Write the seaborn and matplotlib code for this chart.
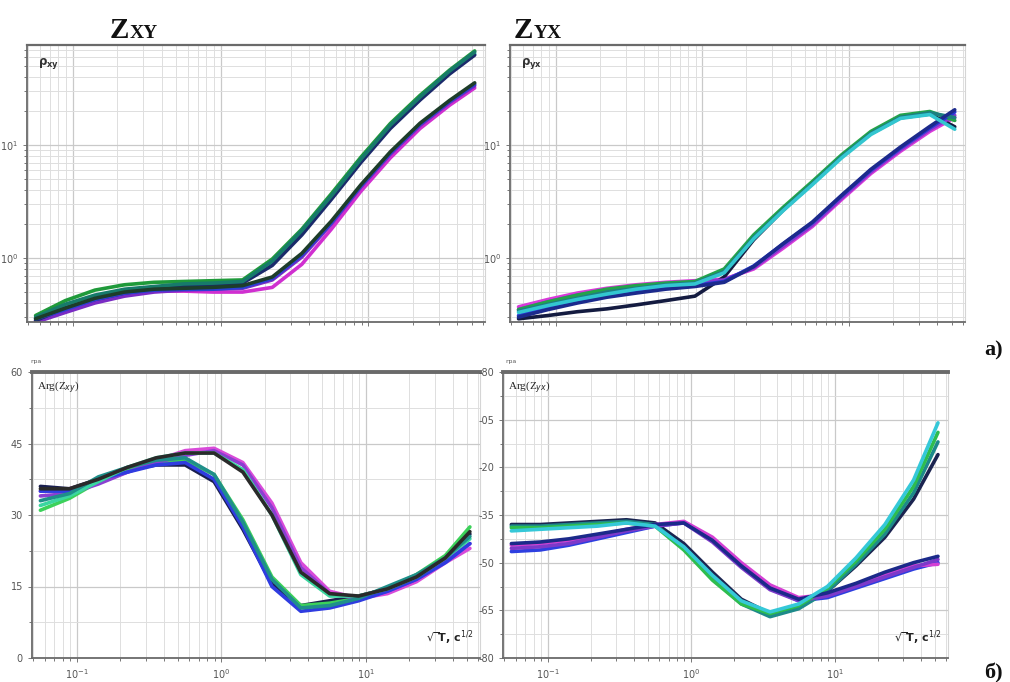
import numpy as np
import pandas as pd
import matplotlib
matplotlib.use("Agg")
import matplotlib.pyplot as plt
import seaborn as sns
from matplotlib.ticker import LogLocator, NullFormatter, FixedLocator, FixedFormatter, MultipleLocator

# ---------------- data ----------------
PERIOD = [0.056, 0.089, 0.141, 0.224, 0.355, 0.562, 0.891, 1.41, 2.24, 3.55,
          5.62, 8.91, 14.1, 22.4, 35.5, 52.5]

# rho_xy (top-left)
RXY_A1 = [0.31, 0.42, 0.52, 0.58, 0.61, 0.62, 0.63, 0.64, 0.98, 1.80, 3.70, 7.8, 15.5, 27.5, 46.0, 68.0]
RXY_A2 = [0.29, 0.38, 0.45, 0.51, 0.55, 0.57, 0.58, 0.61, 0.90, 1.68, 3.40, 7.2, 14.4, 25.6, 43.5, 64.0]
RXY_A3 = [0.28, 0.36, 0.43, 0.49, 0.53, 0.56, 0.58, 0.60, 0.86, 1.60, 3.30, 7.0, 14.0, 25.0, 42.5, 62.5]
RXY_A4 = [0.30, 0.39, 0.47, 0.53, 0.56, 0.59, 0.60, 0.62, 0.94, 1.75, 3.55, 7.5, 15.0, 26.6, 45.2, 66.5]
RXY_B1 = [0.28, 0.34, 0.42, 0.48, 0.51, 0.51, 0.50, 0.50, 0.55, 0.88, 1.80, 3.9, 7.7, 14.0, 22.5, 32.0]
RXY_B2 = [0.27, 0.33, 0.40, 0.46, 0.50, 0.52, 0.53, 0.54, 0.64, 1.02, 2.00, 4.25, 8.3, 14.9, 23.8, 33.5]
RXY_B3 = [0.29, 0.35, 0.43, 0.49, 0.52, 0.53, 0.53, 0.55, 0.66, 1.06, 2.05, 4.35, 8.5, 15.3, 24.3, 34.5]
RXY_B4 = [0.29, 0.36, 0.44, 0.50, 0.53, 0.54, 0.55, 0.57, 0.68, 1.10, 2.12, 4.45, 8.7, 15.6, 24.8, 35.5]

# rho_yx (top-right)
RYX_A1 = [0.29, 0.31, 0.335, 0.355, 0.385, 0.42, 0.46, 0.68, 1.45, 2.65, 4.55, 7.9, 12.6, 17.4, 18.8, 14.5]
RYX_A2 = [0.35, 0.41, 0.47, 0.53, 0.57, 0.60, 0.62, 0.80, 1.60, 2.80, 4.75, 8.2, 13.2, 18.3, 19.8, 16.5]
RYX_A3 = [0.34, 0.39, 0.44, 0.50, 0.54, 0.58, 0.60, 0.76, 1.52, 2.68, 4.55, 7.9, 12.7, 17.6, 19.3, 17.5]
RYX_A4 = [0.33, 0.38, 0.43, 0.48, 0.53, 0.57, 0.59, 0.74, 1.48, 2.62, 4.45, 7.7, 12.4, 17.2, 18.6, 13.8]
RYX_B1 = [0.37, 0.43, 0.49, 0.54, 0.58, 0.61, 0.63, 0.65, 0.80, 1.22, 1.90, 3.30, 5.6, 8.8, 13.2, 17.5]
RYX_B2 = [0.35, 0.41, 0.47, 0.52, 0.56, 0.59, 0.61, 0.64, 0.82, 1.27, 1.96, 3.40, 5.8, 9.1, 13.7, 18.3]
RYX_B3 = [0.31, 0.36, 0.41, 0.46, 0.50, 0.54, 0.57, 0.62, 0.85, 1.33, 2.05, 3.55, 6.0, 9.4, 14.2, 19.6]
RYX_B4 = [0.30, 0.35, 0.40, 0.45, 0.49, 0.53, 0.56, 0.61, 0.84, 1.34, 2.08, 3.60, 6.1, 9.6, 14.6, 20.5]

# Arg(Zxy) (bottom-left)
PXY_A1 = [36, 35.5, 37.5, 39.5, 40.5, 40.5, 37, 27, 15.5, 11, 12, 13, 14.5, 17, 20.5, 26]
PXY_A2 = [31, 33.5, 37, 39.5, 41, 41.5, 38.5, 29, 17, 11, 11.5, 12.5, 14.5, 17.5, 21.5, 27.5]
PXY_A3 = [35, 35, 37.5, 39, 40.5, 41, 37.5, 27.5, 15, 9.8, 10.5, 12, 14, 16.5, 20, 24]
PXY_A4 = [33, 34.5, 38, 40, 41.5, 42, 38.5, 28.5, 16.5, 10.5, 11, 12.5, 15, 17.5, 21, 25.5]
PXY_B1 = [35, 35.5, 37, 39, 41.5, 43.5, 44, 41, 32.5, 20, 14, 12.5, 13.5, 16, 20, 23]
PXY_B2 = [34, 34.5, 36.5, 39, 41, 42.5, 43.5, 40.5, 31.5, 19, 13.5, 12.5, 14, 16.5, 20.5, 24]
PXY_B3 = [32, 34, 37, 40, 42, 43, 43, 39.5, 30, 17.5, 13, 13, 14.5, 17, 21, 25]
PXY_B4 = [35.5, 35.5, 37.5, 40, 42, 43, 43, 39, 30, 18, 13.5, 13, 14.5, 17, 21, 26.5]

# Arg(Zyx) (bottom-right)
PYX_A1 = [-38, -38, -37.5, -37, -36.5, -37.5, -44, -53, -61.5, -66, -64, -59, -51, -42, -30, -16]
PYX_A2 = [-38.5, -38.5, -38, -37.5, -37, -38, -45.5, -55, -63, -67, -64.5, -59, -50.5, -41, -28, -12]
PYX_A3 = [-39, -39, -38.5, -38, -37.5, -38.5, -46, -55.5, -63, -66, -63.5, -58, -49.5, -39.5, -26, -9]
PYX_A4 = [-40, -39.5, -39, -38.5, -37.5, -38.5, -45, -54, -62, -65.5, -63, -57.5, -48.5, -38, -24, -6]
PYX_B1 = [-46.5, -46, -44.5, -42.5, -40.5, -38.5, -37.5, -42.5, -50.5, -58, -62, -61, -58, -55, -52, -50]
PYX_B2 = [-44.5, -44, -43, -41.5, -39.5, -38, -37, -42, -50, -57, -61, -60, -57, -54, -51, -50.5]
PYX_B3 = [-45.5, -45, -44, -42, -40, -38.5, -37.5, -43.5, -51.5, -58.5, -62, -60.5, -57.5, -54.5, -51.5, -49]
PYX_B4 = [-44, -43.5, -42.5, -41, -39.5, -38, -37.5, -43, -51, -58, -61.5, -59.5, -56.5, -53, -50, -48]

RHO_TICKS = [1, 10]
RHO_LABELS = [r"$10^{0}$", r"$10^{1}$"]
PXY_TICKS = [0, 15, 30, 45, 60]
PXY_LABELS = ["0", "15", "30", "45", "60"]
PYX_TICKS = [-80, -65, -50, -35, -20, -5, 10]
PYX_LABELS = ["-80", "-65", "-50", "-35", "-20", "-05", "-80"]
X_TICKS = [0.1, 1, 10]
X_LABELS = [r"$10^{-1}$", r"$10^{0}$", r"$10^{1}$"]

# ---------------- style ----------------
sns.set_theme(style="white")
plt.rcParams["font.family"] = ["DejaVu Sans"]

W, H = 1010, 682
fig = plt.figure(figsize=(W / 100, H / 100), dpi=100)
fig.patch.set_facecolor("white")


def ax_px(x0, y0, x1, y1):
    return fig.add_axes([x0 / W, 1 - y1 / H, (x1 - x0) / W, (y1 - y0) / H])


ax_tl = ax_px(27, 45, 485, 322)
ax_tr = ax_px(510, 45, 965, 322)
ax_bl = ax_px(32, 372, 480, 658)
ax_br = ax_px(503, 372, 948, 658)

XLIM = (10 ** -1.31, 10 ** 1.79)


def draw(ax, curves, colors):
    rows = []
    for name, vals in curves.items():
        for t, v in zip(PERIOD, vals):
            rows.append((name, t, v))
    df = pd.DataFrame(rows, columns=["curve", "T", "v"])
    sns.lineplot(data=df, x="T", y="v", hue="curve", palette=colors,
                 estimator=None, sort=False, lw=2.6, legend=False, ax=ax)
    ax.set_xlabel("")
    ax.set_ylabel("")


def style_common(ax, top_lw):
    ax.set_xscale("log")
    ax.set_xlim(*XLIM)
    ax.xaxis.set_major_locator(LogLocator(base=10, numticks=10))
    ax.xaxis.set_minor_locator(LogLocator(base=10, subs=np.arange(2, 10), numticks=20))
    ax.xaxis.set_minor_formatter(NullFormatter())
    ax.grid(which="major", color="#c9c9c9", lw=0.9)
    ax.grid(which="minor", color="#dedede", lw=0.7)
    for s in ["left", "bottom"]:
        ax.spines[s].set_color("#6a6a6a")
        ax.spines[s].set_linewidth(1.3)
    ax.spines["top"].set_color("#6a6a6a")
    ax.spines["top"].set_linewidth(top_lw)
    ax.spines["right"].set_color("#d5d5d5")
    ax.spines["right"].set_linewidth(0.8)
    ax.tick_params(which="both", direction="out", color="#777", labelsize=7,
                   labelcolor="#555", length=3, width=0.7, bottom=True, left=True)
    ax.tick_params(which="minor", length=2)
    ax.set_facecolor("white")


# top-left rho_xy
draw(ax_tl, {"A1": RXY_A1, "B1": RXY_B1, "A2": RXY_A2, "B2": RXY_B2,
             "A3": RXY_A3, "B3": RXY_B3, "A4": RXY_A4, "B4": RXY_B4},
     {"A1": "#1f9a3a", "A2": "#2ab5b5", "A3": "#1b2a6b", "A4": "#177a6a",
      "B1": "#d02fd0", "B2": "#7a2bc4", "B3": "#2a3fd6", "B4": "#1d3d2a"})
# top-right rho_yx
draw(ax_tr, {"B1": RYX_B1, "A1": RYX_A1, "B2": RYX_B2, "A2": RYX_A2,
             "B3": RYX_B3, "A3": RYX_A3, "B4": RYX_B4, "A4": RYX_A4},
     {"A1": "#141b40", "A2": "#23a34a", "A3": "#1d7f80", "A4": "#33c6d0",
      "B1": "#d93ad9", "B2": "#8a37cf", "B3": "#2437d2", "B4": "#1c2a8c"})
# bottom-left Arg(Zxy)
draw(ax_bl, {"A1": PXY_A1, "B1": PXY_B1, "A2": PXY_A2, "B2": PXY_B2,
             "A3": PXY_A3, "B3": PXY_B3, "A4": PXY_A4, "B4": PXY_B4},
     {"A1": "#1a1f4f", "A2": "#3cd15a", "A3": "#2f3ce0", "A4": "#1f8f8a",
      "B1": "#d94bd9", "B2": "#8b3fd1", "B3": "#3ad6a0", "B4": "#2a2a2a"})
# bottom-right Arg(Zyx)
draw(ax_br, {"B1": PYX_B1, "A1": PYX_A1, "B2": PYX_B2, "A2": PYX_A2,
             "B3": PYX_B3, "A3": PYX_A3, "B4": PYX_B4, "A4": PYX_A4},
     {"A1": "#1b2450", "A2": "#1d8a8a", "A3": "#2ebd4e", "A4": "#35c8d8",
      "B1": "#2d3fe0", "B2": "#d440d4", "B3": "#7d39c9", "B4": "#1b2a8a"})

for ax in (ax_tl, ax_tr):
    style_common(ax, 1.6)
    ax.set_yscale("log")
    ax.set_ylim(10 ** -0.566, 10 ** 1.885)
    ax.yaxis.set_major_locator(FixedLocator(RHO_TICKS))
    ax.yaxis.set_major_formatter(FixedFormatter(RHO_LABELS))
    ax.yaxis.set_minor_locator(LogLocator(base=10, subs=np.arange(2, 10), numticks=20))
    ax.yaxis.set_minor_formatter(NullFormatter())
    ax.set_xticklabels([])

for ax in (ax_bl, ax_br):
    style_common(ax, 2.8)
    ax.xaxis.set_major_locator(FixedLocator(X_TICKS))
    ax.xaxis.set_major_formatter(FixedFormatter(X_LABELS))
    ax.yaxis.set_minor_locator(MultipleLocator(7.5))

ax_bl.set_ylim(0, 60)
ax_bl.yaxis.set_major_locator(FixedLocator(PXY_TICKS))
ax_bl.yaxis.set_major_formatter(FixedFormatter(PXY_LABELS))
ax_br.set_ylim(-80, 10)
ax_br.yaxis.set_major_locator(FixedLocator(PYX_TICKS))
ax_br.yaxis.set_major_formatter(FixedFormatter(PYX_LABELS))
ax_br.yaxis.set_minor_locator(FixedLocator([-72.5, -57.5, -42.5, -27.5, -12.5, 2.5]))

# in-panel labels
ax_tl.text(0.025, 0.935, r"$\mathbf{\rho_{xy}}$", transform=ax_tl.transAxes,
           fontsize=8.5, color="#333", va="center")
ax_tr.text(0.025, 0.935, r"$\mathbf{\rho_{yx}}$", transform=ax_tr.transAxes,
           fontsize=8.5, color="#333", va="center")
ax_bl.text(0.012, 0.945, r"Arg(Z$_{xy}$)", transform=ax_bl.transAxes,
           fontsize=8, family="Liberation Serif", color="#222", va="center")
ax_br.text(0.012, 0.945, r"Arg(Z$_{yx}$)", transform=ax_br.transAxes,
           fontsize=8, family="Liberation Serif", color="#222", va="center")
for ax in (ax_bl, ax_br):
    ax.text(0.985, 0.04, r"$\sqrt{\,}$T, c$^{1/2}$", transform=ax.transAxes,
            fontsize=8, color="#222", ha="right", va="bottom", fontweight="bold")

# units above phase axes
fig.text(36 / W, 1 - 363 / H, "гра", fontsize=4.5, color="#555", ha="center")
fig.text(511 / W, 1 - 363 / H, "гра", fontsize=4.5, color="#555", ha="center")

# titles
fig.text(110 / W, 1 - 38 / H, "Z", fontsize=21, fontweight="bold",
         family="Liberation Serif", color="#111")
fig.text(130 / W, 1 - 38 / H, "XY", fontsize=14, fontweight="bold",
         family="Liberation Serif", color="#111")
fig.text(514 / W, 1 - 38 / H, "Z", fontsize=21, fontweight="bold",
         family="Liberation Serif", color="#111")
fig.text(534 / W, 1 - 38 / H, "YX", fontsize=14, fontweight="bold",
         family="Liberation Serif", color="#111")

fig.text(984 / W, 1 - 355 / H, "а)", fontsize=16, fontweight="bold",
         family="Liberation Serif", color="#111")
fig.text(984 / W, 1 - 678 / H, "б)", fontsize=16, fontweight="bold",
         family="Liberation Serif", color="#111")

fig.savefig("out.png", dpi=100, facecolor="white")
